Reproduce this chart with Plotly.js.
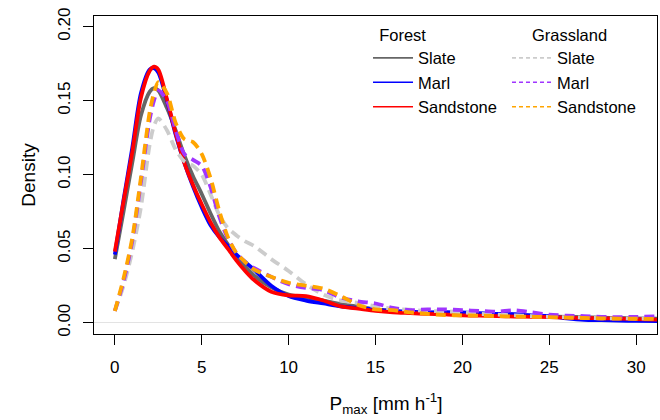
<!DOCTYPE html>
<html>
<head>
<meta charset="utf-8">
<script src="https://cdn.plot.ly/plotly-3.0.1.min.js"></script>
<style>html,body{margin:0;padding:0;background:#fff;}#chart{width:660px;height:420px;}</style>
</head>
<body>
<div id="chart"></div>
<script>
// Grid of P_max values (mm h-1)
var pmax = [0, 0.5, 1, 1.5, 2, 2.25, 2.5, 3, 3.5, 4, 4.5, 5, 5.5, 6, 6.5, 7, 7.5, 8, 9, 10, 11, 12, 13, 14, 15, 16, 17, 18, 19, 20, 21, 22, 23, 24, 25, 26, 27, 28, 29, 30, 31.5];

// Forest densities
var forestSlate = [0.043, 0.075, 0.108, 0.140, 0.156, 0.1585, 0.157, 0.145, 0.130, 0.113, 0.099, 0.087, 0.074, 0.062, 0.053, 0.045, 0.038, 0.032, 0.024, 0.019, 0.017, 0.015, 0.0125, 0.011, 0.009, 0.008, 0.007, 0.0065, 0.006, 0.0055, 0.0052, 0.005, 0.0048, 0.0045, 0.0042, 0.004, 0.0038, 0.0035, 0.0032, 0.003, 0.0028];
var forestMarl = [0.046, 0.083, 0.118, 0.155, 0.171, 0.172, 0.169, 0.150, 0.127, 0.108, 0.092, 0.078, 0.066, 0.058, 0.052, 0.046, 0.041, 0.036, 0.025, 0.018, 0.015, 0.013, 0.011, 0.010, 0.009, 0.008, 0.0075, 0.007, 0.0072, 0.007, 0.0065, 0.006, 0.0058, 0.005, 0.0045, 0.003, 0.002, 0.0018, 0.0015, 0.0012, 0.001];
var forestSandstone = [0.048, 0.082, 0.115, 0.152, 0.170, 0.173, 0.171, 0.151, 0.128, 0.108, 0.093, 0.080, 0.068, 0.058, 0.050, 0.042, 0.035, 0.029, 0.021, 0.0185, 0.018, 0.015, 0.011, 0.0095, 0.008, 0.007, 0.0065, 0.006, 0.0056, 0.005, 0.0048, 0.0045, 0.0042, 0.004, 0.0038, 0.0035, 0.0032, 0.003, 0.0028, 0.0025, 0.002];

// Grassland densities
var grassSlate = [0.008, 0.025, 0.048, 0.078, 0.120, 0.133, 0.138, 0.130, 0.117, 0.109, 0.106, 0.100, 0.087, 0.073, 0.064, 0.059, 0.055, 0.052, 0.043, 0.035, 0.026, 0.019, 0.015, 0.0135, 0.011, 0.0095, 0.0088, 0.008, 0.0078, 0.007, 0.006, 0.0055, 0.005, 0.0045, 0.004, 0.0038, 0.0035, 0.003, 0.003, 0.0028, 0.003];
var grassMarl = [0.008, 0.028, 0.055, 0.095, 0.137, 0.150, 0.157, 0.150, 0.130, 0.114, 0.110, 0.106, 0.092, 0.072, 0.057, 0.047, 0.041, 0.037, 0.031, 0.026, 0.0235, 0.022, 0.017, 0.0145, 0.013, 0.010, 0.0085, 0.009, 0.009, 0.0085, 0.008, 0.0075, 0.0085, 0.007, 0.0055, 0.0048, 0.0045, 0.004, 0.0038, 0.004, 0.0045];
var grassSandstone = [0.008, 0.030, 0.057, 0.098, 0.142, 0.155, 0.1625, 0.155, 0.135, 0.124, 0.122, 0.114, 0.098, 0.076, 0.058, 0.047, 0.041, 0.036, 0.031, 0.027, 0.025, 0.023, 0.018, 0.012, 0.009, 0.0085, 0.007, 0.006, 0.0052, 0.005, 0.0048, 0.0045, 0.0042, 0.004, 0.0038, 0.0035, 0.0032, 0.003, 0.0028, 0.0027, 0.0025];

var seriesNames = ["Slate", "Marl", "Sandstone"];
var xTicks = [0, 5, 10, 15, 20, 25, 30];
var yTicks = [0.00, 0.05, 0.10, 0.15, 0.20];
var yTickText = ["0.00", "0.05", "0.10", "0.15", "0.20"];

var FONT = "Liberation Sans, Arial, sans-serif";
var forestColors = ["#666666", "#0000FF", "#FF0000"];
var grassColors = ["#CCCCCC", "#A035FF", "#FFA500"];
var DASH = "10px,6px";

var traces = [];
var grassData = [grassSlate, grassMarl, grassSandstone];
var forestData = [forestSlate, forestMarl, forestSandstone];

forestData.forEach(function (d, i) {
  traces.push({x: pmax, y: d, type: "scatter", mode: "lines", showlegend: false,
    line: {color: forestColors[i], width: 3.8, shape: "spline", smoothing: 0.8}, hoverinfo: "skip"});
});
grassData.forEach(function (d, i) {
  traces.push({x: pmax, y: d, type: "scatter", mode: "lines", showlegend: false,
    line: {color: grassColors[i], width: 3.8, dash: DASH, shape: "spline", smoothing: 0.8}, hoverinfo: "skip"});
});
// Legend entries (thin lines, as in the reference legend)
seriesNames.forEach(function (n, i) {
  traces.push({x: [null], y: [null], type: "scatter", mode: "lines", name: n, legend: "legend",
    line: {color: forestColors[i], width: 1.6}});
});
seriesNames.forEach(function (n, i) {
  traces.push({x: [null], y: [null], type: "scatter", mode: "lines", name: n, legend: "legend2",
    line: {color: grassColors[i], width: 1.6, dash: "4px,3px"}});
});

var legendBase = {
  font: {family: FONT, size: 16.5, color: "#000"},
  bgcolor: "rgba(0,0,0,0)",
  xanchor: "left", yanchor: "top",
  itemwidth: 40,
  tracegroupgap: 0
};
var legend1 = Object.assign({}, legendBase, {x: 0.4867, y: 0.99,
  title: {text: "&nbsp;&nbsp;Forest", side: "top", font: {family: FONT, size: 16.5, color: "#000"}}});
var legend2 = Object.assign({}, legendBase, {x: 0.7336, y: 0.99,
  title: {text: "&nbsp;&nbsp;&nbsp;&nbsp;&nbsp;Grassland", side: "top", font: {family: FONT, size: 16.5, color: "#000"}}});

var layout = {
  width: 660, height: 420,
  margin: {l: 94, r: 3, t: 16, b: 85.5, autoexpand: false},
  paper_bgcolor: "#fff", plot_bgcolor: "#fff",
  font: {family: FONT, size: 16, color: "#000"},
  showlegend: true,
  legend: legend1,
  legend2: legend2,
  xaxis: {
    range: [-1.2, 31.2], tickvals: xTicks, ticktext: xTicks.map(String),
    ticks: "outside", ticklen: 10, tickcolor: "#000", tickwidth: 1,
    showline: true, mirror: true, linecolor: "#000", linewidth: 1,
    showgrid: false, zeroline: false, automargin: false,
    tickfont: {family: FONT, size: 17, color: "#000"},
    ticklabelstandoff: 8,
    title: {text: "&nbsp;&nbsp;&nbsp;&nbsp;P<sub>max</sub> [mm h<sup>-1</sup>]", font: {family: FONT, size: 19, color: "#000"}, standoff: 20}
  },
  yaxis: {
    range: [-0.0076, 0.2072], tickvals: yTicks, ticktext: yTickText,
    ticks: "outside", ticklen: 10, tickcolor: "#000", tickwidth: 1,
    showline: true, mirror: true, linecolor: "#000", linewidth: 1,
    showgrid: false, zeroline: true, zerolinecolor: "#e3e3e3", zerolinewidth: 1,
    automargin: false,
    tickangle: -90,
    tickfont: {family: FONT, size: 17, color: "#000"},
    ticklabelstandoff: 6,
    title: {text: "Density", font: {family: FONT, size: 19, color: "#000"}, standoff: 14}
  }
};

Plotly.newPlot("chart", traces, layout, {staticPlot: true, displayModeBar: false});
</script>
</body>
</html>
